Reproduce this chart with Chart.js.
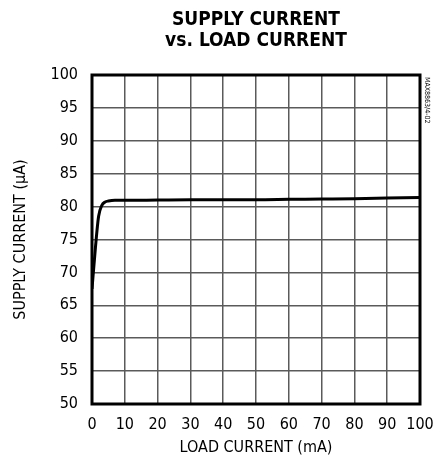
<!DOCTYPE html>
<html>
<head>
<meta charset="utf-8">
<script src="https://cdn.jsdelivr.net/npm/chart.js@4/dist/chart.umd.min.js"></script>
<style>
  body { margin: 0; background: #fff; }
  #chart { display: block; }
</style>
</head>
<body>
<canvas id="chart" width="435" height="461"></canvas>
<script>
// load current (mA) vs supply current (uA)
const loadCurrent = [0, 1, 2, 3, 4, 5, 7, 10, 20, 30, 40, 50, 60, 70, 80, 90, 100];
const supplyCurrent = [67.5, 73.5, 78.5, 80.2, 80.7, 80.85, 80.95, 80.95, 81.0, 81.05, 81.05, 81.05, 81.1, 81.15, 81.2, 81.3, 81.4];
const xTicks = [0, 10, 20, 30, 40, 50, 60, 70, 80, 90, 100];
const yTicks = [50, 55, 60, 65, 70, 75, 80, 85, 90, 95, 100];
const titleLines = ["SUPPLY CURRENT", "vs. LOAD CURRENT"];

const font = "'DejaVu Sans Condensed', 'Liberation Sans Narrow', sans-serif";

const frame = {
  id: "frame",
  afterDraw(chart) {
    const { ctx, chartArea: a } = chart;
    ctx.save();
    ctx.strokeStyle = "#000";
    ctx.lineWidth = 3;
    ctx.strokeRect(a.left, a.top, a.right - a.left, a.bottom - a.top);
    // title centred over the plot
    ctx.fillStyle = "#000";
    ctx.textAlign = "center";
    ctx.textBaseline = "middle";
    ctx.font = "bold 19px " + font;
    const cx = (a.left + a.right) / 2;
    ctx.fillText(titleLines[0], cx, 20);
    ctx.fillText(titleLines[1], cx, 41);
    // part number tag on the right
    ctx.textAlign = "left";
    ctx.translate(a.right + 7, a.top + 2);
    ctx.rotate(Math.PI / 2);
    ctx.font = "7px " + font;
    ctx.fillText("MAX8863/4-02", 0, 0);
    ctx.restore();
  }
};

new Chart(document.getElementById("chart"), {
  type: "line",
  data: {
    datasets: [{
      data: loadCurrent.map((x, i) => ({ x: x, y: supplyCurrent[i] })),
      borderColor: "#000",
      borderWidth: 3,
      pointRadius: 0,
      cubicInterpolationMode: "monotone",
      fill: false
    }]
  },
  options: {
    responsive: false,
    animation: false,
    layout: { padding: { left: 0, right: 15, top: 75, bottom: 0 } },
    plugins: {
      legend: { display: false },
      tooltip: { enabled: false },
      title: { display: false }
    },
    scales: {
      x: {
        type: "linear",
        min: 0,
        max: 100,
        afterBuildTicks: s => { s.ticks = xTicks.map(v => ({ value: v })); },
        afterFit: s => { s.height = 57; s.paddingLeft = 0; s.paddingRight = 0; },
        grid: { color: "#5a5a5a", lineWidth: 1.5, drawTicks: false },
        border: { display: false },
        ticks: { color: "#000", padding: 11, maxRotation: 0, font: { family: font, size: 16 } },
        title: { display: true, text: "LOAD CURRENT (mA)", color: "#000", padding: { top: 2 }, font: { family: font, size: 16 } }
      },
      y: {
        type: "linear",
        min: 50,
        max: 100,
        afterBuildTicks: s => { s.ticks = yTicks.map(v => ({ value: v })); },
        afterFit: s => { s.width = 92; },
        grid: { color: "#5a5a5a", lineWidth: 1.5, drawTicks: false },
        border: { display: false },
        ticks: { color: "#000", padding: 14, font: { family: font, size: 16 } },
        title: { display: true, text: "SUPPLY CURRENT (µA)", color: "#000", padding: { top: 11, bottom: 4 }, font: { family: font, size: 16 } }
      }
    }
  },
  plugins: [frame]
});
</script>
</body>
</html>
